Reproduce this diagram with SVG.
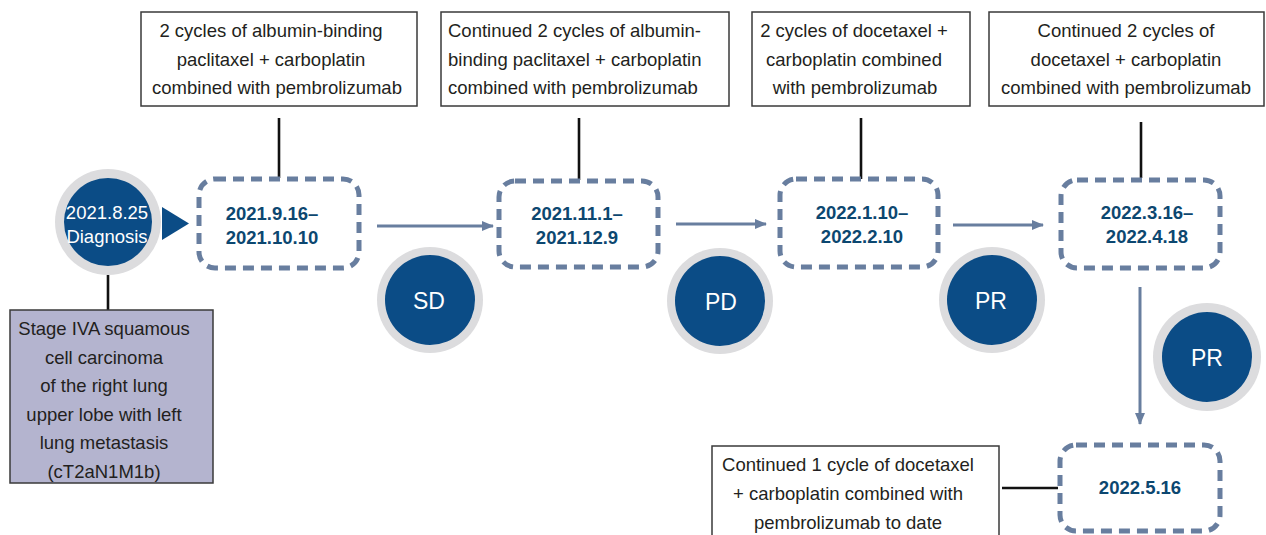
<svg xmlns="http://www.w3.org/2000/svg" width="1266" height="535" viewBox="0 0 1266 535">
<defs>
<style>
.txt{font-family:"Liberation Sans",Arial,sans-serif;font-size:18.5px;fill:#231f20}
.date{font-family:"Liberation Sans",Arial,sans-serif;font-size:18.5px;font-weight:bold;fill:#0c4770;text-anchor:middle}
.wt{font-family:"Liberation Sans",Arial,sans-serif;fill:#ffffff;text-anchor:middle}
.box{fill:#ffffff;stroke:#3a3a3a;stroke-width:1.5}
.dash{fill:#ffffff;stroke:#687e9f;stroke-width:5;stroke-dasharray:11 7}
.ring{fill:#dcdcde}
.core{fill:#0b4c86}
.blk{stroke:#111;stroke-width:2.6;fill:none}
.arr{stroke:#687e9f;stroke-width:3;fill:none;marker-end:url(#ah)}
</style>
<marker id="ah" markerWidth="12" markerHeight="10" refX="11" refY="5" orient="auto" markerUnits="userSpaceOnUse">
<path d="M0,0 L12,5 L0,10 Z" fill="#687e9f"/>
</marker>
</defs>
<rect width="1266" height="535" fill="#ffffff"/>

<g id="connectors">
<path class="blk" d="M279,118 V178"/>
<path class="blk" d="M579,118 V180"/>
<path class="blk" d="M861,118 V179"/>
<path class="blk" d="M1141,122 V178"/>
<path class="blk" d="M108,275 V310"/>
<path class="blk" d="M1002,488 H1058"/>
<path class="arr" d="M377,226 H493"/>
<path class="arr" d="M676,224 H766"/>
<path class="arr" d="M953,225 H1043"/>
<path class="arr" d="M1140,287 V424"/>
<path d="M162,207 L189,223.5 L162,240 Z" fill="#0b4c86"/>
</g>

<g id="diagnosis">
<circle class="ring" cx="108" cy="222" r="53"/>
<circle class="core" cx="108" cy="222" r="44"/>
<text class="wt" x="107" y="219" font-size="18.5">2021.8.25</text>
<text class="wt" x="107" y="243" font-size="18.5">Diagnosis</text>
</g>

<g id="stage">
<rect x="10" y="310" width="203" height="173" fill="#b4b4cf" stroke="#3a3a3a" stroke-width="1.5"/>
<text class="txt" text-anchor="middle" x="104" y="335">Stage IVA squamous</text>
<text class="txt" text-anchor="middle" x="104" y="363.5">cell carcinoma</text>
<text class="txt" text-anchor="middle" x="104" y="392">of the right lung</text>
<text class="txt" text-anchor="middle" x="104" y="420.5">upper lobe with left</text>
<text class="txt" text-anchor="middle" x="104" y="449">lung metastasis</text>
<text class="txt" text-anchor="middle" x="104" y="477.5">(cT2aN1M1b)</text>
</g>

<g id="treat1">
<rect class="box" x="141" y="12" width="276" height="94"/>
<text class="txt" text-anchor="middle" x="271" y="37">2 cycles of albumin-binding</text>
<text class="txt" text-anchor="middle" x="271" y="65.5">paclitaxel + carboplatin</text>
<text class="txt" text-anchor="middle" x="277" y="94">combined with pembrolizumab</text>
</g>
<g id="treat2">
<rect class="box" x="441" y="12" width="288" height="94"/>
<text class="txt" x="448" y="37">Continued 2 cycles of albumin-</text>
<text class="txt" x="448" y="65.5">binding paclitaxel + carboplatin</text>
<text class="txt" x="448" y="94">combined with pembrolizumab</text>
</g>
<g id="treat3">
<rect class="box" x="752" y="12" width="218" height="94"/>
<text class="txt" text-anchor="middle" x="854" y="37">2 cycles of docetaxel +</text>
<text class="txt" text-anchor="middle" x="854" y="65.5">carboplatin combined</text>
<text class="txt" text-anchor="middle" x="855" y="94">with pembrolizumab</text>
</g>
<g id="treat4">
<rect class="box" x="989" y="12" width="275" height="94"/>
<text class="txt" text-anchor="middle" x="1126" y="37">Continued 2 cycles of</text>
<text class="txt" text-anchor="middle" x="1126" y="65.5">docetaxel + carboplatin</text>
<text class="txt" text-anchor="middle" x="1126" y="94">combined with pembrolizumab</text>
</g>
<g id="treat5">
<rect class="box" x="712" y="446" width="287" height="100"/>
<text class="txt" text-anchor="middle" x="848" y="471">Continued 1 cycle of docetaxel</text>
<text class="txt" text-anchor="middle" x="848" y="500">+ carboplatin combined with</text>
<text class="txt" text-anchor="middle" x="848" y="529">pembrolizumab to date</text>
</g>

<g id="period1">
<rect class="dash" x="199" y="179" width="160" height="89" rx="16"/>
<text class="date" x="272" y="220">2021.9.16–</text>
<text class="date" x="272" y="244">2021.10.10</text>
</g>
<g id="period2">
<rect class="dash" x="499" y="181" width="159" height="86" rx="16"/>
<text class="date" x="577" y="220">2021.11.1–</text>
<text class="date" x="577" y="244">2021.12.9</text>
</g>
<g id="period3">
<rect class="dash" x="780" y="179" width="158" height="88" rx="16"/>
<text class="date" x="862" y="219">2022.1.10–</text>
<text class="date" x="862" y="243">2022.2.10</text>
</g>
<g id="period4">
<rect class="dash" x="1061" y="180" width="159" height="88" rx="16"/>
<text class="date" x="1147" y="219">2022.3.16–</text>
<text class="date" x="1147" y="243">2022.4.18</text>
</g>
<g id="period5">
<rect class="dash" x="1060" y="445" width="160" height="86" rx="16"/>
<text class="date" x="1140" y="494">2022.5.16</text>
</g>

<g id="sd">
<circle class="ring" cx="430" cy="300" r="53"/>
<circle class="core" cx="430" cy="300" r="45"/>
<text class="wt" x="429" y="309" font-size="23">SD</text>
</g>
<g id="pd">
<circle class="ring" cx="720" cy="301" r="53"/>
<circle class="core" cx="720" cy="301" r="45"/>
<text class="wt" x="721" y="310" font-size="23">PD</text>
</g>
<g id="pr1">
<circle class="ring" cx="992" cy="300" r="53"/>
<circle class="core" cx="992" cy="300" r="45"/>
<text class="wt" x="991" y="309" font-size="23">PR</text>
</g>
<g id="pr2">
<circle class="ring" cx="1207" cy="357" r="54"/>
<circle class="core" cx="1207" cy="357" r="45"/>
<text class="wt" x="1207" y="366" font-size="23">PR</text>
</g>
</svg>
